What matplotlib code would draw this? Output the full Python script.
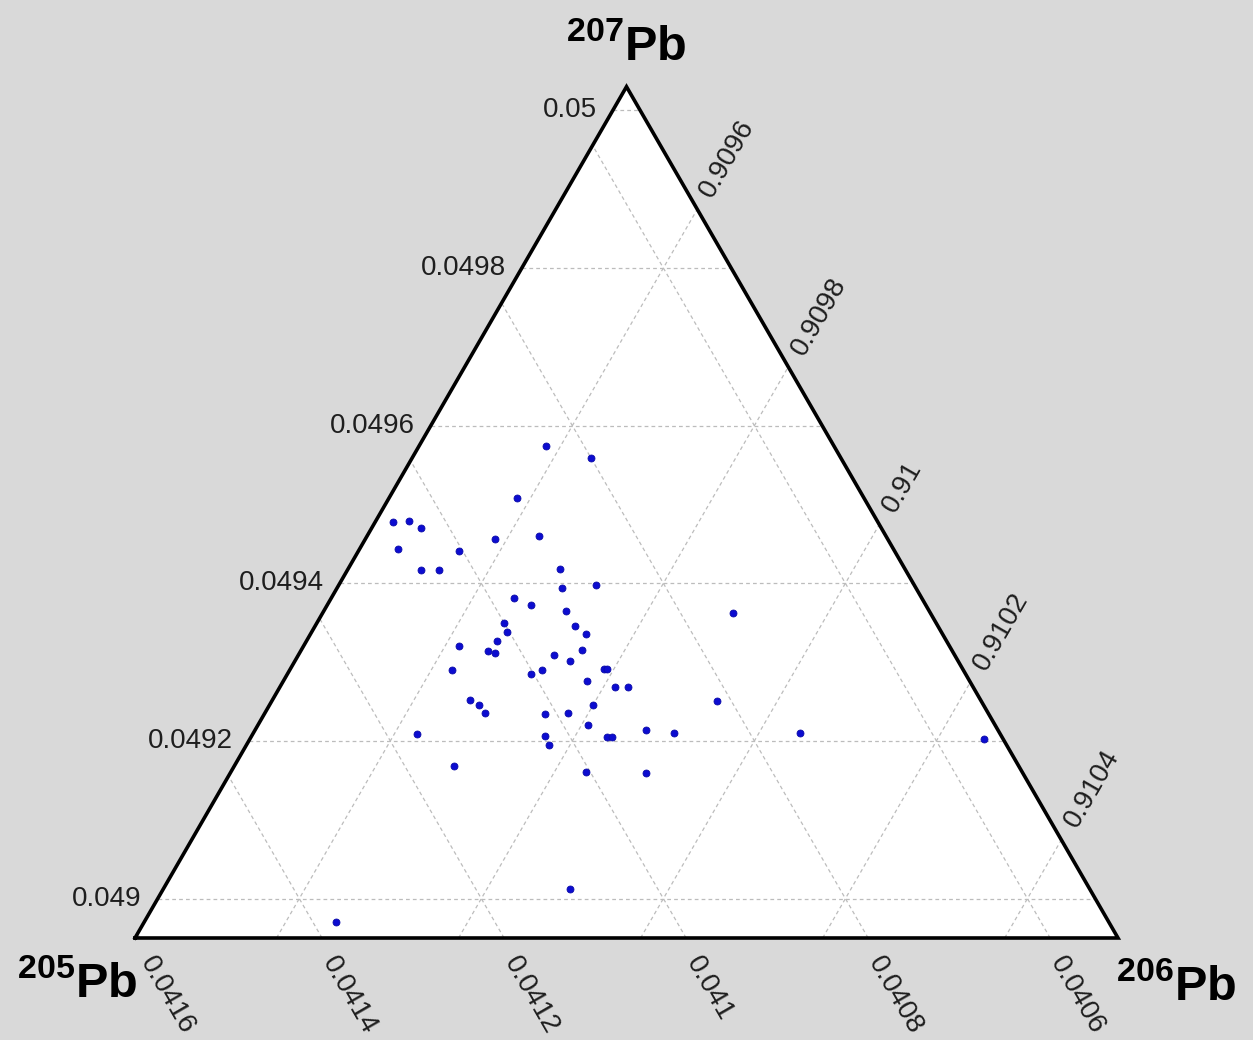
import numpy as np
import matplotlib
matplotlib.use("Agg")
import matplotlib.pyplot as plt

plt.rcParams['font.family'] = ['Liberation Sans', 'DejaVu Sans']
plt.rcParams['mathtext.fontset'] = 'custom'
plt.rcParams['mathtext.rm'] = 'Liberation Sans'
plt.rcParams['mathtext.bf'] = 'Liberation Sans:bold'

# zoomed ternary window: lower limit of each isotope and common span
pb207_min = 0.04895
pb205_min = 0.0405255
pb206_min = 0.9094445
span = 0.00108

ticks207 = [0.049, 0.0492, 0.0494, 0.0496, 0.0498, 0.05]
ticks205 = [0.0416, 0.0414, 0.0412, 0.041, 0.0408, 0.0406]
ticks206 = [0.9096, 0.9098, 0.91, 0.9102, 0.9104]

# measured abundances (207Pb, 205Pb); 206Pb closes the sum to 1
pb207 = [0.0495744, 0.0495588, 0.0495088, 0.0494776, 0.0494792, 0.0494700, 0.0494568, 0.0494598, 0.0494433, 0.0494408,
         0.0494170, 0.0494170, 0.0494179, 0.0493936, 0.0493977, 0.0493819, 0.0493722, 0.0493646, 0.0493494, 0.0493457,
         0.0493377, 0.0493358, 0.0493210, 0.0493269, 0.0493142, 0.0493121, 0.0493089, 0.0493149, 0.0493018, 0.0492901,
         0.0492854, 0.0492901, 0.0492918, 0.0492918, 0.0492762, 0.0492679, 0.0492682, 0.0492520, 0.0492453, 0.0492359,
         0.0492347, 0.0492359, 0.0492457, 0.0492512, 0.0492203, 0.0492085, 0.0492067, 0.0491953, 0.0492055, 0.0492055,
         0.0492140, 0.0492105, 0.0491687, 0.0491610, 0.0491590, 0.0493628, 0.0492098, 0.0492022, 0.0490118, 0.0489699]
pb205 = [0.0408422, 0.0408005, 0.0409062, 0.0410587, 0.0410400, 0.0410317, 0.0409570, 0.0409072, 0.0410697, 0.0410042,
         0.0410582, 0.0410381, 0.0409047, 0.0409143, 0.0408752, 0.0409732, 0.0409597, 0.0409249, 0.0410005, 0.0409240,
         0.0410033, 0.0409168, 0.0410639, 0.0410188, 0.0410354, 0.0410288, 0.0409655, 0.0409323, 0.0409517, 0.0410867,
         0.0410031, 0.0409878, 0.0409194, 0.0409158, 0.0409459, 0.0409189, 0.0409052, 0.0410865, 0.0410803, 0.0410784,
         0.0410131, 0.0409865, 0.0409542, 0.0408159, 0.0409730, 0.0411668, 0.0410264, 0.0410277, 0.0409596, 0.0409537,
         0.0409121, 0.0408834, 0.0411454, 0.0410048, 0.0409396, 0.0407418, 0.0407450, 0.0405464, 0.0410967, 0.0413750]
pb206 = 1 - np.array(pb207) - np.array(pb205)

H = np.sqrt(3) / 2


def to_xy(p207, p206):
    fa = (np.asarray(p207) - pb207_min) / span
    fc = (np.asarray(p206) - pb206_min) / span
    return fc + 0.5 * fa, fa * H


fig = plt.figure(figsize=(12.53, 10.40), dpi=100, facecolor='#d9d9d9')
ax = fig.add_axes([135 / 1253, 102 / 1040, 983 / 1253, 851.3 / 1040])
ax.set_xlim(0, 1)
ax.set_ylim(0, H)
ax.axis('off')

ax.fill([0, 1, 0.5], [0, 0, H], color='white', zorder=0)

grid_kw = dict(color='#bcbcbc', lw=0.9, ls=(0, (3, 2.5)), zorder=1)
lab_kw = dict(textcoords='offset points', fontsize=20, color='#1e1e1e', annotation_clip=False)

# 207Pb: horizontal lines, labels on the left edge
for t in ticks207:
    x, y = to_xy([t, t], [pb206_min, 1 - t - pb205_min])
    ax.plot(x, y, **grid_kw)
    ax.annotate('%g' % t, (x[0], y[0]), xytext=(-11.5, 0), ha='right', va='center', **lab_kw)

# 205Pb: lines parallel to the right edge, labels under the base
for t in ticks205:
    x, y = to_xy([pb207_min, 1 - t - pb206_min], [1 - pb207_min - t, pb206_min])
    ax.plot(x, y, **grid_kw)
    ax.annotate('%g' % t, (x[0], y[0]), xytext=(4, -15), ha='left', va='center',
                rotation=-60, rotation_mode='anchor', **lab_kw)

# 206Pb: lines parallel to the left edge, labels on the right edge
for t in ticks206:
    x, y = to_xy([pb207_min, 1 - t - pb205_min], [t, t])
    ax.plot(x, y, **grid_kw)
    ax.annotate('%g' % t, (x[1], y[1]), xytext=(6.5, 10), ha='left', va='center',
                rotation=60, rotation_mode='anchor', **lab_kw)

ax.plot([0, 1, 0.5, 0], [0, 0, H, 0], color='black', lw=2.6, zorder=5,
        clip_on=False, solid_joinstyle='miter')

px, py = to_xy(pb207, pb206)
ax.plot(px, py, 'o', ms=5, color='#0c0cd0', mec='#0a0aa8', mew=0.6, zorder=4, clip_on=False)

title_kw = dict(fontsize=35, ha='center', va='baseline', color='black')
fig.text(626.5 / 1253, 1 - 60 / 1040, r'$\mathbf{^{207}Pb}$', **title_kw)
fig.text(77 / 1253, 1 - 997 / 1040, r'$\mathbf{^{205}Pb}$', **title_kw)
fig.text(1176 / 1253, 1 - 1000 / 1040, r'$\mathbf{^{206}Pb}$', **title_kw)

fig.savefig('out.png', dpi=100, facecolor=fig.get_facecolor())
